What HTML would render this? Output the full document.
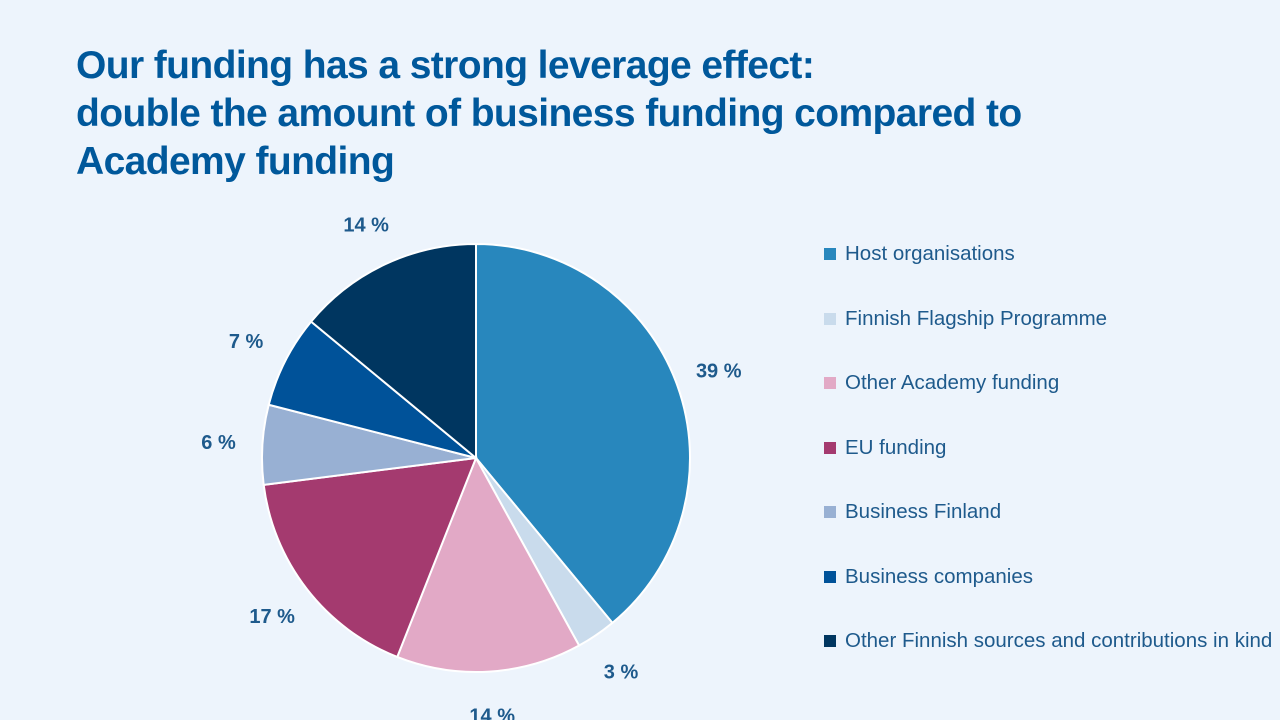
<!DOCTYPE html>
<html><head><meta charset="utf-8"><style>
body{margin:0;width:1280px;height:720px;background:#edf4fc;font-family:"Liberation Sans",sans-serif;overflow:hidden;position:relative}
#title{position:absolute;left:76px;top:42px;font-size:39px;font-weight:bold;color:#00589b;line-height:48px;letter-spacing:-0.6px;margin:0}
.leg{position:absolute;left:824px;font-size:20.5px;color:#1e5a8c;display:flex;align-items:flex-start;width:450px;line-height:30px}
.sw{width:12px;height:12px;margin-top:9px;margin-right:9px;flex:none}
svg{position:absolute;left:0;top:0}
</style></head><body>
<h1 id="title">Our funding has a strong leverage effect:<br>double the amount of business funding compared to<br>Academy funding</h1>
<svg id="pie" width="1280" height="720"></svg>
<div id="legend"></div>
<script>
const categories=["Host organisations","Finnish Flagship Programme","Other Academy funding","EU funding","Business Finland","Business companies","Other Finnish sources and contributions in kind"];
const values=[39,3,14,17,6,7,14];
const labels=["39 %","3 %","14 %","17 %","6 %","7 %","14 %"];
const colors=["#2887bd","#c9dbec","#e2a9c6","#a43a6f","#98b0d3","#005299","#003660"];
const NS="http://www.w3.org/2000/svg";
const svg=document.getElementById('pie');
const cx=476,cy=458,R=214,LR=258;
const total=values.reduce((a,b)=>a+b,0);
function pt(a,r){return [cx+r*Math.sin(a),cy-r*Math.cos(a)];}
let acc=0;
values.forEach((v,i)=>{
 const a0=acc/total*2*Math.PI;acc+=v;const a1=acc/total*2*Math.PI;
 const p0=pt(a0,R),p1=pt(a1,R);
 const path=document.createElementNS(NS,'path');
 path.setAttribute('d',`M${cx},${cy}L${p0[0]},${p0[1]}A${R},${R} 0 ${a1-a0>Math.PI?1:0} 1 ${p1[0]},${p1[1]}Z`);
 path.setAttribute('fill',colors[i]);path.setAttribute('stroke','#fff');path.setAttribute('stroke-width','2');
 
 
 svg.appendChild(path);
 const m=(a0+a1)/2;const lp=pt(m,LR);
 const t=document.createElementNS(NS,'text');
 t.setAttribute('x',lp[0]);t.setAttribute('y',lp[1]+7);t.setAttribute('text-anchor','middle');
 t.setAttribute('font-size','20');t.setAttribute('font-weight','bold');t.setAttribute('fill','#1e5a8c');
 t.textContent=labels[i];
 
 
 svg.appendChild(t);
});
const lg=document.getElementById('legend');
categories.forEach((c,i)=>{
 const d=document.createElement('div');d.className='leg';d.style.top=(239+i*64.5)+'px';
 
 
 const s=document.createElement('div');s.className='sw';s.style.background=colors[i];
 const t=document.createElement('span');t.textContent=c;
 d.appendChild(s);d.appendChild(t);lg.appendChild(d);
});
</script>
</body></html>
